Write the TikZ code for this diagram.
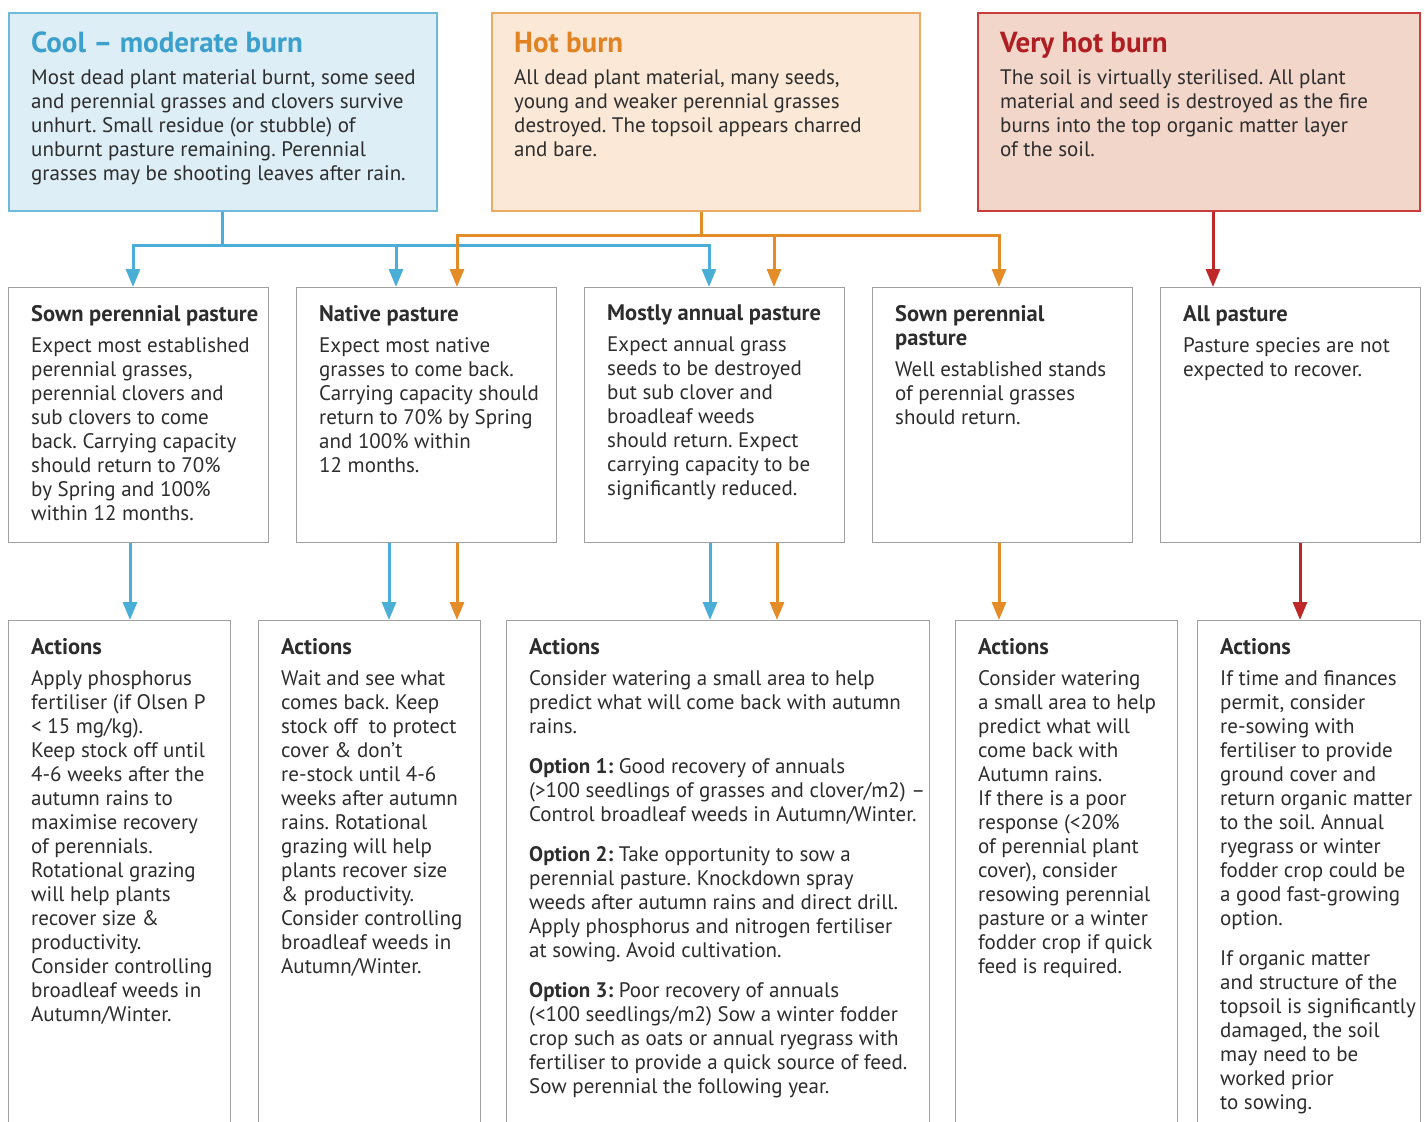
\documentclass[tikz,border=0pt]{standalone}
\usepackage{fontspec}
\setmainfont{PT Sans}
\frenchspacing
\usetikzlibrary{positioning,calc,arrows.meta}

\definecolor{ink}{RGB}{45,45,45}
\definecolor{boxgray}{RGB}{160,160,160}
\definecolor{cblue}{RGB}{74,174,214}
\definecolor{coolfill}{RGB}{222,238,246}
\definecolor{coolline}{RGB}{110,185,220}
\definecolor{cooltext}{RGB}{60,160,205}
\definecolor{corange}{RGB}{228,140,40}
\definecolor{hotfill}{RGB}{251,232,214}
\definecolor{hotline}{RGB}{236,170,100}
\definecolor{hottext}{RGB}{225,130,35}
\definecolor{cred}{RGB}{190,40,40}
\definecolor{vhotfill}{RGB}{242,214,202}
\definecolor{vhotline}{RGB}{200,60,60}
\definecolor{vhottext}{RGB}{175,30,35}

\begin{document}
\begin{tikzpicture}[x=1pt,y=-1pt,
    topbox/.style={rectangle, line width=1.5pt, minimum width=428pt, minimum height=198pt, anchor=north west, inner sep=0},
    pastbox/.style={rectangle, draw=boxgray, line width=1.2pt, minimum width=260pt, minimum height=255pt, inner sep=0},
    actbox/.style={rectangle, draw=boxgray, line width=1.2pt, minimum width=222pt, minimum height=530pt, anchor=north west, inner sep=0},
    bigtitle/.style={anchor=north west, inner sep=0, font=\fontsize{29}{32}\selectfont\bfseries},
    boxtitle/.style={anchor=north west, inner sep=0, text=ink, align=left, font=\fontsize{22.5}{24}\selectfont\bfseries},
    boxtext/.style={anchor=north west, inner sep=0, text=ink, align=left, font=\fontsize{21}{24}\selectfont},
    bluearr/.style={draw=cblue, line width=3pt, -{Triangle[width=14pt,length=18pt]}},
    orangearr/.style={draw=corange, line width=3pt, -{Triangle[width=14pt,length=18pt]}},
    redarr/.style={draw=cred, line width=3pt, -{Triangle[width=14pt,length=18pt]}}]

    \useasboundingbox[fill=white] (0,0) rectangle (1425,1122);

    % burn types
    \node[topbox, draw=coolline, fill=coolfill] (cool) at (8,12) {};
    \node[topbox, draw=hotline, fill=hotfill] (hot) at (491,12) {};
    \node[topbox, draw=vhotline, fill=vhotfill, minimum width=442pt] (vhot) at (977,12) {};

    \node[bigtitle, text=cooltext] at ($(cool.north west)+(23,20)$) {Cool -- moderate burn};
    \node[boxtext] at ($(cool.north west)+(23,57)$) {Most dead plant material burnt, some seed\\and perennial grasses and clovers survive\\unhurt. Small residue (or stubble) of\\unburnt pasture remaining. Perennial\\grasses may be shooting leaves after rain.};
    \node[bigtitle, text=hottext] at ($(hot.north west)+(23,20)$) {Hot burn};
    \node[boxtext] at ($(hot.north west)+(23,57)$) {All dead plant material, many seeds,\\young and weaker perennial grasses\\destroyed. The topsoil appears charred\\and bare.};
    \node[bigtitle, text=vhottext] at ($(vhot.north west)+(23,20)$) {Very hot burn};
    \node[boxtext] at ($(vhot.north west)+(23,57)$) {The soil is virtually sterilised. All plant\\material and seed is destroyed as the fire\\burns into the top organic matter layer\\of the soil.};

    % pasture types
    \node[pastbox, anchor=north west] (p1) at (8,287) {};
    \node[pastbox, right=26.8pt of p1] (p2) {};
    \node[pastbox, right=26.8pt of p2] (p3) {};
    \node[pastbox, right=26.8pt of p3] (p4) {};
    \node[pastbox, right=26.8pt of p4] (p5) {};

    \node[boxtitle] at ($(p1.north west)+(23,18)$) {Sown perennial pasture};
    \node[boxtext] at ($(p1.north west)+(23,50)$) {Expect most established\\perennial grasses,\\perennial clovers and\\sub clovers to come\\back. Carrying capacity\\should return to 70\%\\by Spring and 100\%\\within 12 months.};
    \node[boxtitle] at ($(p2.north west)+(23,18)$) {Native pasture};
    \node[boxtext] at ($(p2.north west)+(23,50)$) {Expect most native\\grasses to come back.\\Carrying capacity should\\return to 70\% by Spring\\and 100\% within\\12 months.};
    \node[boxtitle] at ($(p3.north west)+(23,18)$) {Mostly annual pasture};
    \node[boxtext] at ($(p3.north west)+(23,50)$) {Expect annual grass\\seeds to be destroyed\\but sub clover and\\broadleaf weeds\\should return. Expect\\carrying capacity to be\\significantly reduced.};
    \node[boxtitle] at ($(p4.north west)+(23,18)$) {Sown perennial\\pasture};
    \node[boxtext] at ($(p4.north west)+(23,74)$) {Well established stands\\of perennial grasses\\should return.};
    \node[boxtitle] at ($(p5.north west)+(23,18)$) {All pasture};
    \node[boxtext] at ($(p5.north west)+(23,50)$) {Pasture species are not\\expected to recover.};

    % actions
    \node[actbox] (a1) at (8,620) {};
    \node[actbox] (a2) at (258,620) {};
    \node[actbox, minimum width=423pt] (a3) at (506,620) {};
    \node[actbox] (a4) at (955,620) {};
    \node[actbox, minimum width=223pt] (a5) at (1197,620) {};

    \node[boxtitle] at ($(a1.north west)+(23,18)$) {Actions};
    \node[boxtext] at ($(a1.north west)+(23,50)$) {Apply phosphorus\\fertiliser (if Olsen P\\< 15 mg/kg).\\Keep stock off until\\4-6 weeks after the\\autumn rains to\\maximise recovery\\of perennials.\\Rotational grazing\\will help plants\\recover size \&\\productivity.\\Consider controlling\\broadleaf weeds in\\Autumn/Winter.};
    \node[boxtitle] at ($(a2.north west)+(23,18)$) {Actions};
    \node[boxtext] at ($(a2.north west)+(23,50)$) {Wait and see what\\comes back. Keep\\stock off~ to protect\\cover \& don’t\\re-stock until 4-6\\weeks after autumn\\rains. Rotational\\grazing will help\\plants recover size\\\& productivity.\\Consider controlling\\broadleaf weeds in\\Autumn/Winter.};
    \node[boxtitle] at ($(a3.north west)+(23,18)$) {Actions};
    \node[boxtext] at ($(a3.north west)+(23,50)$) {Consider watering a small area to help\\predict what will come back with autumn\\rains.\\[16pt]
      \textbf{Option 1:} Good recovery of annuals\\(>100 seedlings of grasses and clover/m2) --\\Control broadleaf weeds in Autumn/Winter.\\[16pt]
      \textbf{Option 2:} Take opportunity to sow a\\perennial pasture. Knockdown spray\\weeds after autumn rains and direct drill.\\Apply phosphorus and nitrogen fertiliser\\at sowing. Avoid cultivation.\\[16pt]
      \textbf{Option 3:} Poor recovery of annuals\\(<100 seedlings/m2) Sow a winter fodder\\crop such as oats or annual ryegrass with\\fertiliser to provide a quick source of feed.\\Sow perennial the following year.};
    \node[boxtitle] at ($(a4.north west)+(23,18)$) {Actions};
    \node[boxtext] at ($(a4.north west)+(23,50)$) {Consider watering\\a small area to help\\predict what will\\come back with\\Autumn rains.\\If there is a poor\\response (<20\%\\of perennial plant\\cover), consider\\resowing perennial\\pasture or a winter\\fodder crop if quick\\feed is required.};
    \node[boxtitle] at ($(a5.north west)+(23,18)$) {Actions};
    \node[boxtext] at ($(a5.north west)+(23,50)$) {If time and finances\\permit, consider\\re-sowing with\\fertiliser to provide\\ground cover and\\return organic matter\\to the soil. Annual\\ryegrass or winter\\fodder crop could be\\a good fast-growing\\option.\\[16pt]
      If organic matter\\and structure of the\\topsoil is significantly\\damaged, the soil\\may need to be\\worked prior\\to sowing.};

    % burn -> pasture
    \coordinate (cj) at ($(cool.south)+(0,34)$);
    \draw[bluearr] (cj) -| ($(p1.north west)+(125,0)$);
    \draw[bluearr] (cj) -| ($(p2.north west)+(100,0)$);
    \draw[bluearr] (cj) -| ($(p3.north west)+(125,0)$);
    \draw[draw=cblue, line width=3pt] (cool.south) -- (cj);
    \coordinate (hj) at ($(hot.south west)+(210,24)$);
    \draw[orangearr] (hj) -| ($(p2.north west)+(161,0)$);
    \draw[orangearr] (hj) -| ($(p3.north west)+(190,0)$);
    \draw[orangearr] (hj) -| ($(p4.north west)+(127,0)$);
    \draw[draw=corange, line width=3pt] (hj |- hot.south) -- (hj);
    \draw[redarr] ($(vhot.south west)+(236,0)$) coordinate (r0) -- (r0 |- p5.north);

    % pasture -> actions
    \draw[bluearr] ($(p1.south west)+(122,0)$) coordinate (t1) -- (t1 |- a1.north);
    \draw[bluearr] ($(p2.south west)+(93,0)$) coordinate (t2) -- (t2 |- a2.north);
    \draw[orangearr] ($(p2.south west)+(161,0)$) coordinate (t3) -- (t3 |- a2.north);
    \draw[bluearr] ($(p3.south west)+(126,0)$) coordinate (t4) -- (t4 |- a3.north);
    \draw[orangearr] ($(p3.south west)+(193,0)$) coordinate (t5) -- (t5 |- a3.north);
    \draw[orangearr] ($(p4.south west)+(127,0)$) coordinate (t6) -- (t6 |- a4.north);
    \draw[redarr] ($(p5.south west)+(140,0)$) coordinate (t7) -- (t7 |- a5.north);

\end{tikzpicture}
\end{document}
